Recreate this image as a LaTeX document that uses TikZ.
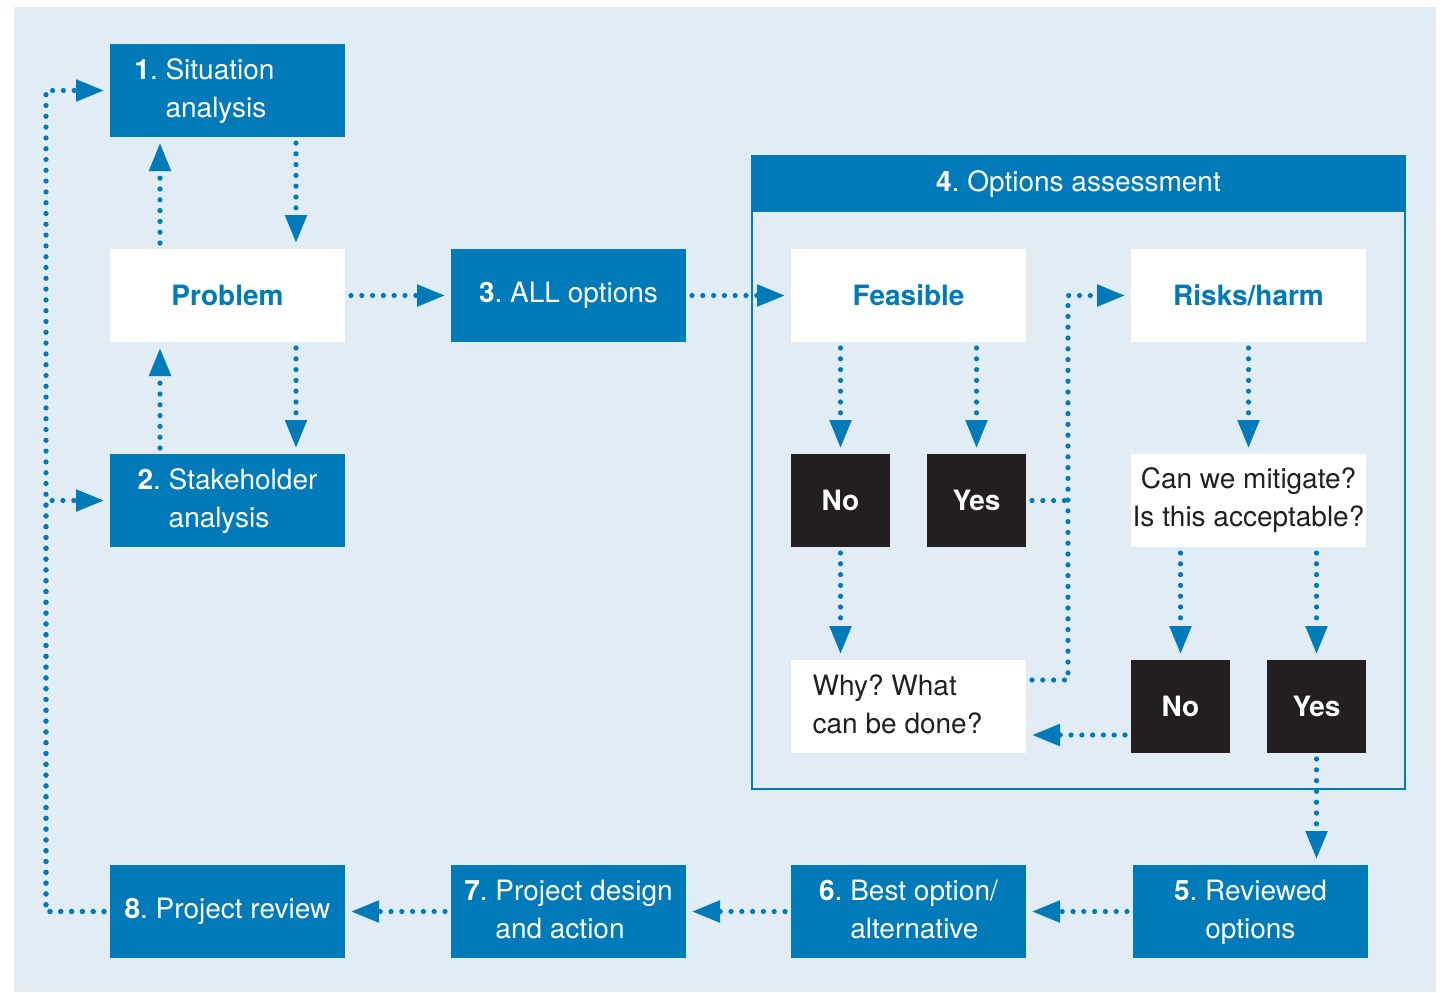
\documentclass[tikz,border=0pt]{standalone}
\usepackage{fontspec}
\setmainfont{TeX Gyre Heros}
\usetikzlibrary{arrows.meta,calc}
\definecolor{ob}{HTML}{007AB8}
\definecolor{bg}{HTML}{E1ECF5}
\definecolor{dk}{HTML}{231F20}
\frenchspacing

\begin{document}
\begin{tikzpicture}[x=0.5pt,y=-0.5pt,
  every node/.style={font=\fontsize{14}{19}\selectfont, inner sep=0pt, outer sep=3pt},
  procbox/.style={minimum width=117.5pt, minimum height=46.5pt},
  bluebox/.style={procbox, fill=ob, text=white},
  whitebox/.style={procbox, fill=white, text=ob, font=\fontsize{14}{19}\selectfont\bfseries},
  notebox/.style={procbox, fill=white, text=dk},
  darkbox/.style={minimum width=49.5pt, minimum height=46.5pt, fill=dk, text=white,
                  font=\fontsize{14}{19}\selectfont\bfseries},
  dotline/.style={draw=ob, line width=2.6pt, line cap=round, dash pattern=on 0pt off 5.4pt},
  flowarrow/.style={dotline, -{Triangle[length=14pt,width=10.5pt]}},
]
\newcommand{\hang}[2]{\textbf{#1}.~\begin{tabular}[t]{@{}l@{}}#2\end{tabular}}

% canvas
\useasboundingbox (0,0) rectangle (1443,992);
\fill[white] (0,0) rectangle (1443,992);
\fill[bg] (14,7) rectangle (1436,992);

% options assessment frame
\draw[ob, line width=1.25pt] (752,156) rectangle (1405,789);
\node[fill=ob, text=white, minimum width=326.5pt, minimum height=28pt, outer sep=0pt]
  (hdr) at (1078.5,184) {\textbf{4}. Options assessment};

% left column
\node[bluebox] (b1) at (227.5,90.5) {\hang{1}{Situation\\analysis}\hspace*{23pt}};
\node[whitebox] (prob) at (227.5,295.5) {Problem};
\node[bluebox] (b2) at (227.5,500.5) {\hang{2}{Stakeholder\\analysis}};
\node[bluebox] (b3) at (568.5,295.5) {\textbf{3}. ALL options};

% assessment contents
\node[whitebox] (feas) at (908.5,295.5) {Feasible};
\node[whitebox] (risk) at (1248.5,295.5) {Risks/harm};
\node[darkbox] (no1) at (840.5,500.5) {No};
\node[darkbox] (yes1) at (976.5,500.5) {Yes};
\node[notebox, align=center] (mit) at (1248.5,500.5) {Can we mitigate?\\Is this acceptable?};
\node[notebox] (why) at (908.5,706.5) {\begin{tabular}{@{}l@{}}Why? What\\can be done?\end{tabular}\hspace*{11pt}};
\node[darkbox] (no2) at (1180.5,706.5) {No};
\node[darkbox] (yes2) at (1316.5,706.5) {Yes};

% bottom row
\node[bluebox] (b5) at (1250.5,911.5) {\hang{5}{Reviewed\\options}};
\node[bluebox] (b6) at (908.5,911.5) {\hang{6}{Best option/\\alternative}};
\node[bluebox] (b7) at (568.5,911.5) {\hang{7}{Project design\\and action}};
\node[bluebox] (b8) at (227.5,911.5) {\textbf{8}. Project review};

% problem <-> analyses
\draw[flowarrow] ($(prob.north)+(-67.5,0)$) -- ($(b1.south)+(-67.5,0)$);
\draw[flowarrow] ($(b1.south)+(68.5,0)$) -- ($(prob.north)+(68.5,0)$);
\draw[flowarrow] ($(b2.north)+(-67.5,0)$) -- ($(prob.south)+(-67.5,0)$);
\draw[flowarrow] ($(prob.south)+(68.5,0)$) -- ($(b2.north)+(68.5,0)$);

% main flow
\draw[flowarrow] (prob.east) -- (b3.west);
\draw[flowarrow] (b3.east) -- (feas.west);
\draw[flowarrow] (feas.south -| no1.north) -- (no1.north);
\draw[flowarrow] (feas.south -| yes1.north) -- (yes1.north);
\draw[flowarrow] (no1.south) -- (why.north -| no1.south);
\draw[flowarrow] ($(why.east)+(0,-26.5)$) -- ++(36,0) |- (risk.west);
\draw[dotline] (yes1.east) -- ++(36,0);
\draw[flowarrow] (risk.south) -- (mit.north);
\draw[flowarrow] (mit.south -| no2.north) -- (no2.north);
\draw[flowarrow] (mit.south -| yes2.north) -- (yes2.north);
\draw[flowarrow] ($(no2.west)+(0,28.5)$) -- ($(why.east)+(0,28.5)$);
\draw[flowarrow] (yes2.south) -- (b5.north -| yes2.south);
\draw[flowarrow] (b5.west) -- (b6.east);
\draw[flowarrow] (b6.west) -- (b7.east);
\draw[flowarrow] (b7.west) -- (b8.east);

% review loop back to the analyses
\draw[flowarrow] (b8.west) -- ++(-58,0) |- (b1.west);
\draw[flowarrow] (b8.west) -- ++(-58,0) |- (b2.west);
\end{tikzpicture}
\end{document}
